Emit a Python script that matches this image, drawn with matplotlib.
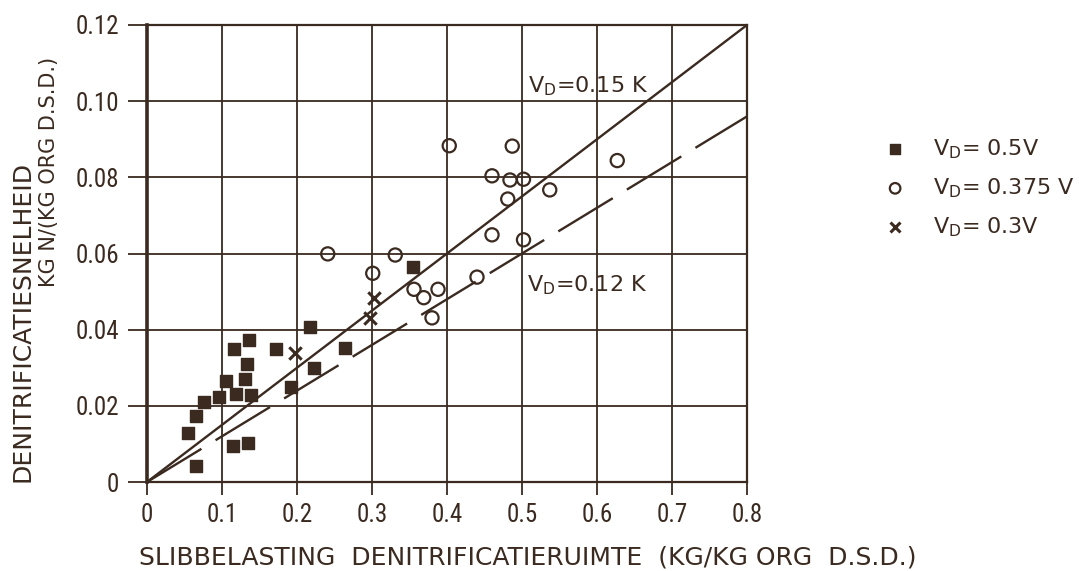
import matplotlib
matplotlib.use("Agg")

import matplotlib.pyplot as plt
from matplotlib import font_manager


INK = "#3a2a20"

# V_D = 0.5V (filled squares)
square_x = [0.055, 0.065, 0.065, 0.076, 0.096, 0.105, 0.114, 0.116, 0.118, 0.131,
            0.133, 0.134, 0.136, 0.139, 0.172, 0.192, 0.217, 0.222, 0.264, 0.354]
square_y = [0.0128, 0.0173, 0.0043, 0.0211, 0.0222, 0.0266, 0.0095, 0.0348, 0.0230, 0.0270,
            0.0309, 0.0102, 0.0373, 0.0228, 0.0348, 0.0249, 0.0408, 0.0299, 0.0351, 0.0565]

# V_D = 0.375 V (open circles)
circle_x = [0.241, 0.301, 0.331, 0.356, 0.369, 0.380, 0.388, 0.403, 0.440,
            0.460, 0.460, 0.481, 0.484, 0.487, 0.502, 0.502, 0.537, 0.627]
circle_y = [0.0599, 0.0548, 0.0596, 0.0506, 0.0484, 0.0431, 0.0506, 0.0883, 0.0538,
            0.0804, 0.0649, 0.0743, 0.0793, 0.0882, 0.0795, 0.0636, 0.0767, 0.0844]

# V_D = 0.3V (crosses)
cross_x = [0.197, 0.302, 0.297]
cross_y = [0.0338, 0.0482, 0.0431]

# fitted lines V_D = 0.15 K (solid) and V_D = 0.12 K (dashed)
line_x = [0.0, 0.8]
solid_y = [0.0, 0.12]
dashed_y = [0.0, 0.096]

x_ticks = [0, 0.1, 0.2, 0.3, 0.4, 0.5, 0.6, 0.7, 0.8]
x_tick_labels = ["0", "0.1", "0.2", "0.3", "0.4", "0.5", "0.6", "0.7", "0.8"]
y_ticks = [0, 0.02, 0.04, 0.06, 0.08, 0.10, 0.12]
y_tick_labels = ["0", "0.02", "0.04", "0.06", "0.08", "0.10", "0.12"]

legend_labels = [r"$V_D$= 0.5V", r"$V_D$= 0.375 V", r"$V_D$= 0.3V"]


# narrow font for the digits if there is one
names = {f.name for f in font_manager.fontManager.ttflist}
TICK_FONT = next((n for n in ["Liberation Sans Narrow", "Roboto Condensed"] if n in names),
                 "DejaVu Sans")

plt.rcParams["font.family"] = "DejaVu Sans"
plt.rcParams["mathtext.default"] = "regular"
plt.rcParams["text.color"] = INK

fig = plt.figure(figsize=(10.79, 5.71), dpi=100)
ax = fig.add_axes([147 / 1079, 1 - 482 / 571, 600 / 1079, 457 / 571])

ax.plot(line_x, solid_y, color=INK, lw=1.7, zorder=3)
ax.plot(line_x, dashed_y, color=INK, lw=1.7, dashes=(27, 7), zorder=3)

ax.scatter(square_x, square_y, marker="s", s=70, color=INK, zorder=4,
           label=legend_labels[0])
ax.scatter(circle_x, circle_y, marker="o", s=90, facecolors="none", edgecolors=INK,
           linewidths=1.6, zorder=4, label=legend_labels[1])
ax.scatter(cross_x, cross_y, marker="x", s=80, color=INK, linewidths=2.2, zorder=4,
           label=legend_labels[2])

ax.text(0.508, 0.1024, r"$V_D$=0.15 K", fontsize=16, ha="left", va="baseline")
ax.text(0.507, 0.0500, r"$V_D$=0.12 K", fontsize=16, ha="left", va="baseline")

ax.set_xlim(0, 0.8)
ax.set_ylim(0, 0.12)
ax.set_xticks(x_ticks)
ax.set_xticklabels(x_tick_labels)
ax.set_yticks(y_ticks)
ax.set_yticklabels(y_tick_labels)

ax.grid(True, color=INK, lw=1.3)
ax.set_axisbelow(True)

for side, spine in ax.spines.items():
    spine.set_color(INK)
    spine.set_linewidth(2.6 if side == "left" else 1.6)

ax.tick_params(axis="y", direction="out", length=14, width=1.3, pad=6,
               colors=INK, labelsize=18)
ax.tick_params(axis="x", direction="out", length=9, width=1.3, pad=6,
               colors=INK, labelsize=18)
for lbl in ax.get_xticklabels() + ax.get_yticklabels():
    lbl.set_fontfamily(TICK_FONT)
    if TICK_FONT == "DejaVu Sans":
        lbl.set_fontstretch("condensed")

fig.text(528 / 1079, 1 - 557 / 571,
         "SLIBBELASTING  DENITRIFICATIERUIMTE  (KG/KG ORG  D.S.D.)",
         fontsize=18, ha="center", va="center")
fig.text(23 / 1079, 1 - 321 / 571, "DENITRIFICATIESNELHEID",
         fontsize=18, rotation=90, ha="center", va="center")
fig.text(49 / 1079, 1 - 172 / 571, "KG N/(KG ORG D.S.D.)",
         fontsize=15, rotation=90, ha="center", va="center")

ax.legend(loc="upper left", bbox_to_anchor=(884 / 1079, 1 - 137 / 571),
          bbox_transform=fig.transFigure, frameon=False, fontsize=16,
          borderpad=0, borderaxespad=0, handlelength=1.0, handletextpad=1.2,
          labelspacing=0.7, markerscale=0.8)

fig.savefig("out.png", dpi=100, facecolor="white")
